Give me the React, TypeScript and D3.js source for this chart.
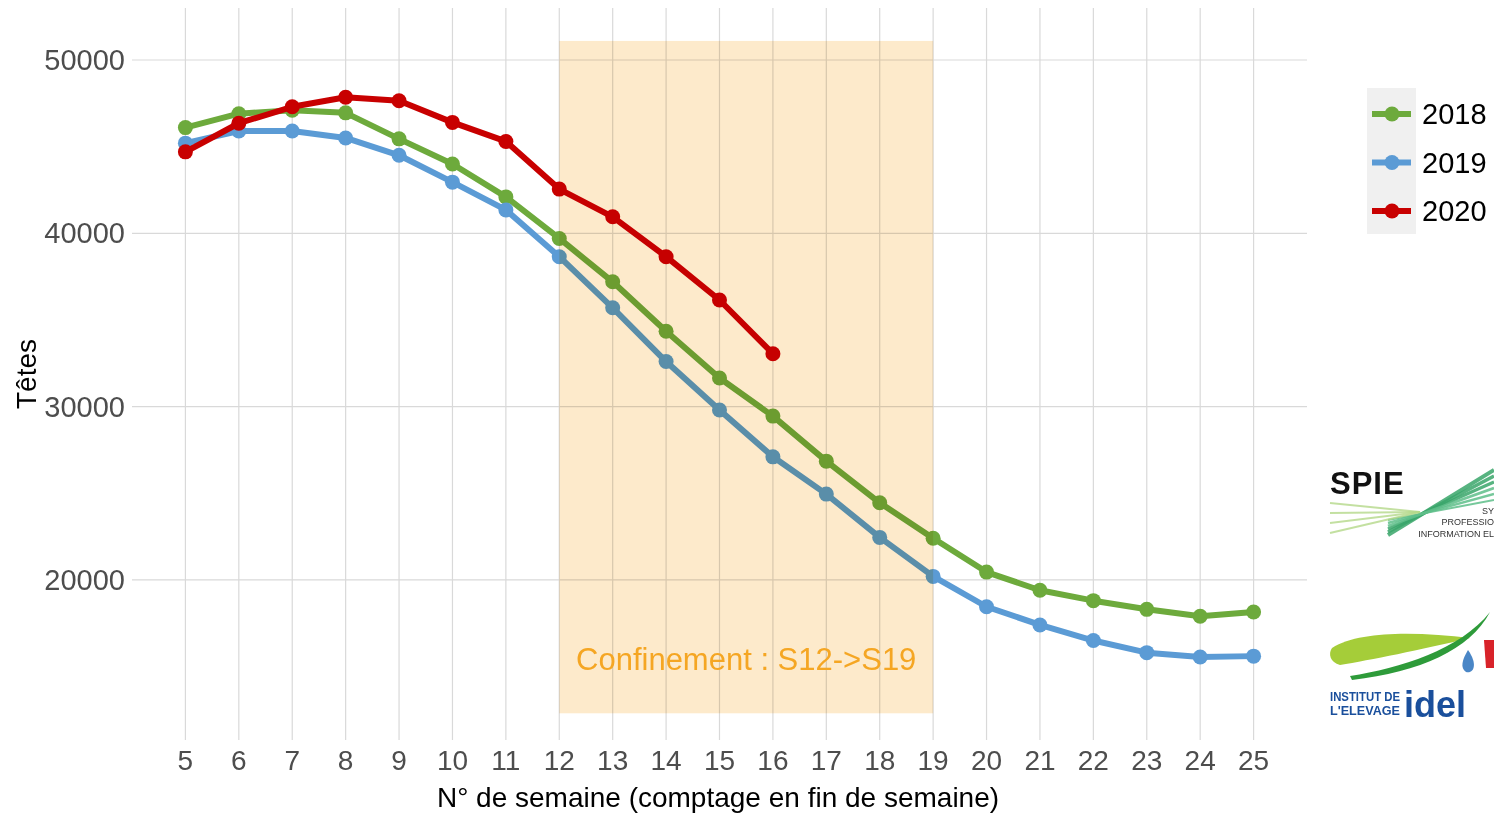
import * as d3 from "d3";

const weeks = [5, 6, 7, 8, 9, 10, 11, 12, 13, 14, 15, 16, 17, 18, 19, 20, 21, 22, 23, 24, 25];
const s2018 = [46100, 46900, 47100, 46950, 45450, 44000, 42100, 39700, 37200, 34350, 31650, 29450, 26850, 24450, 22400, 20450, 19400, 18800, 18300, 17900, 18150];
const s2019 = [45200, 45900, 45900, 45500, 44500, 42950, 41350, 38650, 35700, 32600, 29800, 27100, 24950, 22450, 20200, 18450, 17400, 16500, 15800, 15550, 15600];
const s2020 = [44700, 46350, 47300, 47850, 47650, 46400, 45300, 42550, 40950, 38650, 36150, 33050];
const yTicks = [20000, 30000, 40000, 50000];
const lockdown = { from: 12, to: 19, low: 12300, high: 51100, label: "Confinement : S12->S19" };

const series = [
  { name: "2018", values: s2018, color: "#6DAA3C" },
  { name: "2019", values: s2019, color: "#5B9BD5" },
  { name: "2020", values: s2020, color: "#C80000" },
];

const W = 1494;
const H = 814;
const panel = { left: 132, right: 1307, top: 8, bottom: 740 };
const font = "'Liberation Sans', Arial, sans-serif";

export default function App() {
  const x = d3.scaleLinear().domain([4, 26]).range([panel.left, panel.right]);
  const y = d3.scaleLinear().domain([10760, 53000]).range([panel.bottom, panel.top]);

  const line = d3
    .line<number>()
    .x((_, i) => x(weeks[i]))
    .y((d) => y(d));

  return (
    <div style={{ position: "absolute", left: 0, top: 0 }}>
      <svg width={W} height={H} style={{ display: "block", background: "#fff", isolation: "isolate" }} fontFamily={font}>
        <rect x={0} y={0} width={W} height={H} fill="#fff" />
        {/* grid */}
        {yTicks.map((t) => (
          <line key={"h" + t} x1={panel.left} x2={panel.right} y1={y(t)} y2={y(t)} stroke="#d9d9d9" strokeWidth={1.2} />
        ))}
        {weeks.map((w) => (
          <line key={"v" + w} x1={x(w)} x2={x(w)} y1={panel.top} y2={panel.bottom} stroke="#d9d9d9" strokeWidth={1.2} />
        ))}

        {/* series */}
        {series.map((s) => (
          <g key={s.name}>
            <path d={line(s.values) ?? ""} fill="none" stroke={s.color} strokeWidth={6} strokeLinejoin="round" />
            {s.values.map((v, i) => (
              <circle key={i} cx={x(weeks[i])} cy={y(v)} r={7.5} fill={s.color} />
            ))}
          </g>
        ))}

        {/* lockdown band, multiplied over the lines */}
        <rect
          x={x(lockdown.from)}
          y={y(lockdown.high)}
          width={x(lockdown.to) - x(lockdown.from)}
          height={y(lockdown.low) - y(lockdown.high)}
          fill="#FDEACB"
          style={{ mixBlendMode: "multiply" }}
        />
        <text x={(x(lockdown.from) + x(lockdown.to)) / 2} y={670} textAnchor="middle" fontSize={31} fill="#F5A623">
          {lockdown.label}
        </text>

        {/* y axis */}
        {yTicks.map((t) => (
          <text key={"yl" + t} x={125} y={y(t) + 10} textAnchor="end" fontSize={29} fill="#4d4d4d">
            {t}
          </text>
        ))}
        <text transform={`translate(36,${(panel.top + panel.bottom) / 2}) rotate(-90)`} textAnchor="middle" fontSize={28} fill="#000">
          Têtes
        </text>

        {/* x axis */}
        {weeks.map((w) => (
          <text key={"xl" + w} x={x(w)} y={770} textAnchor="middle" fontSize={28} fill="#4d4d4d">
            {w}
          </text>
        ))}
        <text x={718} y={807} textAnchor="middle" fontSize={28} fill="#000">
          N° de semaine (comptage en fin de semaine)
        </text>

        {/* legend */}
        <rect x={1367} y={88} width={49} height={146} fill="#f0f0f0" />
        {series.map((s, i) => {
          const ly = 114 + i * 48.5;
          return (
            <g key={"lg" + s.name}>
              <line x1={1372} x2={1411} y1={ly} y2={ly} stroke={s.color} strokeWidth={6} />
              <circle cx={1392} cy={ly} r={7.5} fill={s.color} />
              <text x={1422} y={ly + 10} fontSize={29} fill="#000">
                {s.name}
              </text>
            </g>
          );
        })}

        {/* SPIE logo (approximation) */}
        <g>
          <text x={1330} y={494} fontSize={31} fontWeight="bold" fill="#111" letterSpacing={1}>
            SPIE
          </text>
          {[0, 1, 2, 3, 4, 5].map((k) => (
            <line key={"r" + k} x1={1388} y1={535 - k * 3} x2={1494} y2={470 + k * 6} stroke={k < 3 ? "#3aa66b" : "#5fbf8a"} strokeWidth={4 - k * 0.4} opacity={0.85} />
          ))}
          {[0, 1, 2, 3].map((k) => (
            <line key={"l" + k} x1={1330} y1={503 + k * 10} x2={1420} y2={512} stroke="#b5d98a" strokeWidth={2} opacity={0.8} />
          ))}
          <text x={1494} y={514} textAnchor="end" fontSize={9} fill="#333">SY</text>
          <text x={1494} y={525} textAnchor="end" fontSize={9} fill="#333">PROFESSIO</text>
          <text x={1494} y={537} textAnchor="end" fontSize={9} fill="#333">INFORMATION EL</text>
        </g>

        {/* Idele logo (approximation) */}
        <g>
          <path d="M1332,648 C1360,630 1420,632 1470,638 C1420,650 1370,660 1340,665 C1330,662 1328,654 1332,648 Z" fill="#a5cd39" />
          <path d="M1350,676 C1400,668 1460,650 1490,612 C1470,650 1420,672 1352,680 Z" fill="#2e9b3a" />
          <path d="M1468,650 C1462,660 1460,668 1466,672 C1474,674 1478,664 1468,650 Z" fill="#4a86c6" />
          <path d="M1484,640 L1494,640 L1494,668 L1486,668 Z" fill="#d8232a" />
          <text x={1330} y={701} fontSize={12} fontWeight="bold" fill="#1a4f9c" textLength={70} lengthAdjust="spacingAndGlyphs">INSTITUT DE</text>
          <text x={1330} y={715} fontSize={12} fontWeight="bold" fill="#1a4f9c" textLength={70} lengthAdjust="spacingAndGlyphs">L'ELEVAGE</text>
          <text x={1404} y={717} fontSize={36} fontWeight="bold" fill="#1a4f9c">idel</text>
        </g>
      </svg>
    </div>
  );
}
